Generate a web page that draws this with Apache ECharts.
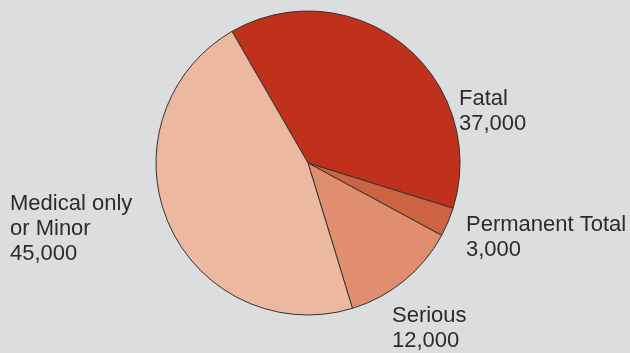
<!DOCTYPE html>
<html>
<head>
<meta charset="utf-8">
<script src="https://cdn.jsdelivr.net/npm/echarts@6/dist/echarts.min.js"></script>
<style>
  html, body { margin: 0; padding: 0; background: #dcdddf; }
  #chart { width: 630px; height: 353px; }
</style>
</head>
<body>
<div id="chart"></div>
<script>
// Injury cases by severity
const categories = ['Fatal', 'Permanent Total', 'Serious', 'Medical only\nor Minor'];
const values = [37000, 3000, 12000, 45000];
const valueLabels = ['37,000', '3,000', '12,000', '45,000'];
const colors = ['#c0311b', '#cd6441', '#e08e6f', '#ecb9a0'];

// Label anchor positions (left/top of each text block)
const labelPos = [[459, 86], [466, 212], [392, 303], [10, 191]];

const chart = echarts.init(document.getElementById('chart'), null, { renderer: 'canvas' });
chart.setOption({
  backgroundColor: '#dcdddf',
  animation: false,
  series: [{
    type: 'pie',
    center: [308, 163],
    radius: 152,
    startAngle: 120,
    clockwise: true,
    silent: true,
    emphasis: { disabled: true },
    itemStyle: { borderColor: '#333333', borderWidth: 1 },
    label: {
      show: true,
      position: 'outside',
      overflow: 'none',
      width: 300,
      formatter: p => categories[p.dataIndex] + '\n' + valueLabels[p.dataIndex],
      fontFamily: 'Liberation Sans, Arial, sans-serif',
      fontSize: 22,
      lineHeight: 25,
      color: '#2b2b2b'
    },
    labelLine: { show: false },
    labelLayout: p => ({
      x: labelPos[p.dataIndex][0],
      y: labelPos[p.dataIndex][1],
      align: 'left',
      verticalAlign: 'top'
    }),
    data: values.map((v, i) => ({
      name: categories[i],
      value: v,
      itemStyle: { color: colors[i] }
    }))
  }]
});
</script>
</body>
</html>
